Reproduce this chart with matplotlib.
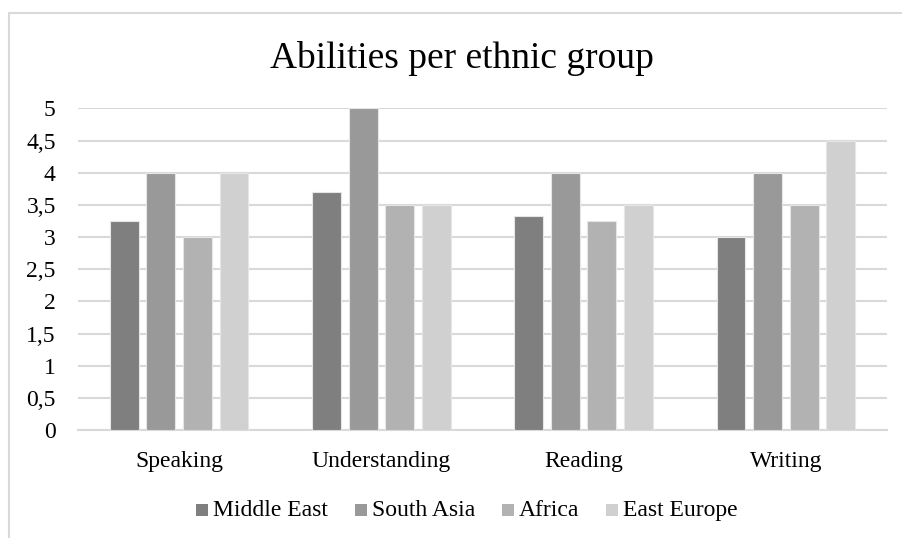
import matplotlib
matplotlib.use("Agg")
import matplotlib.pyplot as plt
from matplotlib.patches import Rectangle
import numpy as np

plt.rcParams['font.family'] = ['Liberation Serif', 'DejaVu Serif']

categories = ["Speaking", "Understanding", "Reading", "Writing"]
series_names = ["Middle East", "South Asia", "Africa", "East Europe"]
middle_east = [3.25, 3.7, 3.33, 3.0]
south_asia = [4.0, 5.0, 4.0, 4.0]
africa = [3.0, 3.5, 3.25, 3.5]
east_europe = [4.0, 3.5, 3.5, 4.5]
y_ticks = [0, 0.5, 1, 1.5, 2, 2.5, 3, 3.5, 4, 4.5, 5]
y_tick_labels = ["0", "0,5", "1", "1,5", "2", "2,5", "3", "3,5", "4", "4,5", "5"]

colors = ["#7f7f7f", "#999999", "#b2b2b2", "#d0d0d0"]
grid_color = "#d9d9d9"

W, H = 903, 538
fig = plt.figure(figsize=(W / 100, H / 100), dpi=100)

# chart frame (light border, continues past the right and bottom edges)
fig.add_artist(Rectangle((9.5 / W, -0.1), 1.2, 1.1 - 13 / H,
                         transform=fig.transFigure, fill=False,
                         edgecolor=grid_color, linewidth=1.5, zorder=0))

ax = fig.add_axes([78 / W, 1 - 430 / H, (887 - 78) / W, (430 - 108.4) / H])

x = np.arange(len(categories))
pitch = 0.181
bar_w = 0.143
all_series = [middle_east, south_asia, africa, east_europe]
for i, (name, vals) in enumerate(zip(series_names, all_series)):
    ax.bar(x + (i - 1.5) * pitch, vals, width=bar_w, color=colors[i],
           edgecolor="#e6e6e6", linewidth=0.8, label=name, zorder=3)

ax.set_xlim(-0.5, len(categories) - 0.5)
ax.set_ylim(0, 5)
ax.set_yticks(y_ticks)
ax.set_yticklabels(y_tick_labels, fontsize=17)
ax.set_xticks(x)
ax.set_xticklabels(categories, fontsize=17)
ax.tick_params(axis='both', length=0)
ax.tick_params(axis='y', pad=16)
ax.tick_params(axis='x', pad=15)
ax.yaxis.grid(True, color=grid_color, linewidth=1.5, zorder=0)
ax.set_axisbelow(True)
for s in ["top", "right", "left"]:
    ax.spines[s].set_visible(False)
ax.spines["bottom"].set_color(grid_color)
ax.spines["bottom"].set_linewidth(1.5)

fig.text(462 / W, 1 - 59 / H, "Abilities per ethnic group", fontsize=27,
         ha="center", va="center")

# Legend row: square swatch + label, all on a shared text baseline
renderer = fig.canvas.get_renderer()
sw, sw_gap, entry_gap = 12, 5, 27       # pixels
baseline_px, center_px = 516, 467
labels = [fig.text(0, 1 - baseline_px / H, n, fontsize=17, va="baseline")
          for n in series_names]
widths = [t.get_window_extent(renderer).width for t in labels]
total = sum(sw + sw_gap + w for w in widths) + entry_gap * (len(widths) - 1)
xpos = center_px - total / 2
for name, col, t, w in zip(series_names, colors, labels, widths):
    fig.add_artist(Rectangle((xpos / W, 1 - baseline_px / H), sw / W, sw / H,
                             transform=fig.transFigure, facecolor=col,
                             edgecolor="none"))
    t.set_x((xpos + sw + sw_gap) / W)
    xpos += sw + sw_gap + w + entry_gap

fig.savefig("out.png", dpi=100)
